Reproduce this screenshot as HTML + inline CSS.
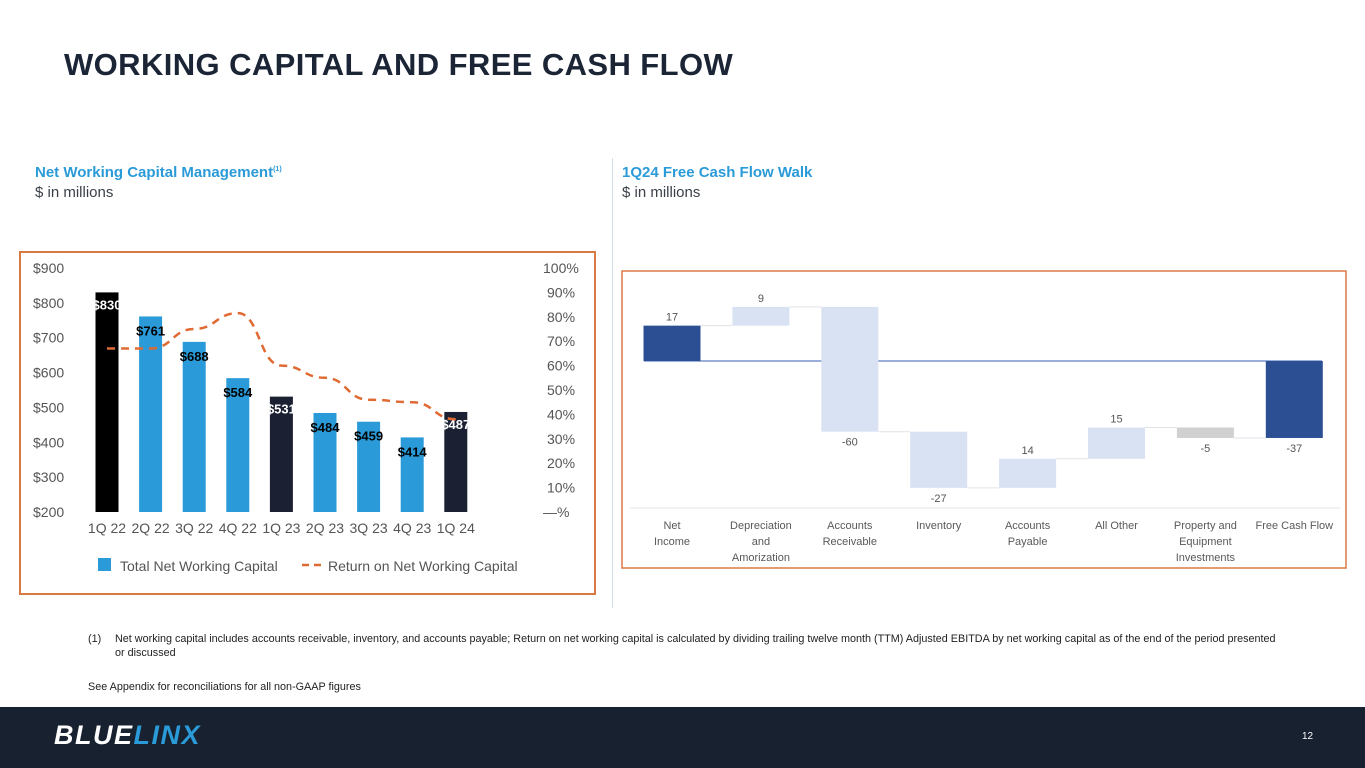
<!DOCTYPE html>
<html><head><meta charset="utf-8"><style>
body{margin:0;width:1365px;height:768px;position:relative;background:#fff;font-family:"Liberation Sans",sans-serif;overflow:hidden}
.abs{position:absolute}
</style></head><body>
<div class="abs" style="left:64px;top:47px;font-size:31px;font-weight:bold;color:#1b2536;letter-spacing:0.4px">WORKING CAPITAL AND FREE CASH FLOW</div>
<div class="abs" style="left:35px;top:164px;font-size:15px;font-weight:bold;color:#2a9bd8">Net Working Capital Management<sup style="font-size:7px">(1)</sup></div>
<div class="abs" style="left:35px;top:184px;font-size:15px;color:#3a3f48">$ in millions</div>
<div class="abs" style="left:622px;top:164px;font-size:15px;font-weight:bold;color:#2a9bd8">1Q24 Free Cash Flow Walk</div>
<div class="abs" style="left:622px;top:184px;font-size:15px;color:#3a3f48">$ in millions</div>
<div class="abs" style="left:612px;top:158px;width:1px;height:450px;background:#d5dde6"></div>

<svg class="abs" style="left:0;top:0" width="1365" height="700" id="svg"></svg>

<div class="abs" style="left:88px;top:632px;width:1200px;font-size:10.8px;color:#222;line-height:14px"><span style="position:absolute;left:0">(1)</span><div style="margin-left:27px">Net working capital includes accounts receivable, inventory, and accounts payable; Return on net working capital is calculated by dividing trailing twelve month (TTM) Adjusted EBITDA by net working capital as of the end of the period presented or discussed</div></div>
<div class="abs" style="left:88px;top:681px;font-size:10.8px;color:#222">See Appendix for reconciliations for all non-GAAP figures</div>
<div class="abs" style="left:0;top:707px;width:1365px;height:61px;background:#17212f">
<div style="position:absolute;left:54px;top:13px;font-size:27px;font-weight:900;font-style:italic;letter-spacing:1.5px;color:#fff">BLUE<span style="color:#2a9bd8">LINX</span></div>
<div style="position:absolute;left:1302px;top:24px;font-size:10px;color:#fff">12</div>
</div>

<script>
const cats=["1Q 22","2Q 22","3Q 22","4Q 22","1Q 23","2Q 23","3Q 23","4Q 23","1Q 24"];
const nwc=[830,761,688,584,531,484,459,414,487];
const ronwc=[67,67,75,81.5,60,55,46,45,38];
const yTicks=[200,300,400,500,600,700,800,900];
const pTicks=[0,10,20,30,40,50,60,70,80,90,100];
const wfCats=[["Net","Income"],["Depreciation","and","Amorization"],["Accounts","Receivable"],["Inventory"],["Accounts","Payable"],["All Other"],["Property and","Equipment","Investments"],["Free Cash Flow"]];
const wfVals=[17,9,-60,-27,14,15,-5,-37];

const NS="http://www.w3.org/2000/svg",svg=document.getElementById('svg');
function mk(t,a,txt){const e=document.createElementNS(NS,t);for(const k in a)e.setAttribute(k,a[k]);if(txt!==undefined)e.textContent=txt;svg.appendChild(e);return e;}
let b=mk('rect',{x:20,y:252,width:575,height:342,fill:'none',stroke:'#d97a45','stroke-width':2});

const y=v=>512-(v-200)*244/700, p=v=>512-v*2.44, x=i=>107+i*43.6;
yTicks.forEach(t=>{const e=mk('text',{x:33,y:y(t)+5,'font-size':14,fill:'#555'},'$'+t);});
pTicks.forEach(t=>{const e=mk('text',{x:t==0?543:(t==100?543:547),y:p(t)+5,'font-size':14,fill:'#555'},t==0?'—%':t+'%');});
cats.forEach((c,i)=>{
 const col=i==0?'#000':(i==4||i==8?'#1c2033':'#2a9bd8');
 const r=mk('rect',{x:x(i)-11.5,y:y(nwc[i]),width:23,height:512-y(nwc[i]),fill:col});
 
 const dark=i==0||i==4||i==8;
 const l=mk('text',{x:x(i),y:y(nwc[i])+(dark?17:19),'font-size':13,'font-weight':'bold','text-anchor':'middle',fill:dark?'#fff':'#000'},'$'+nwc[i]);
 
 const t=mk('text',{x:x(i),y:533,'font-size':14,'text-anchor':'middle',fill:'#555'},c);
 
});
let d='M'+x(0)+','+p(ronwc[0]);
for(let i=1;i<ronwc.length;i++){const x0=x(i-1),x1=x(i),y0=p(ronwc[i-1]),y1=p(ronwc[i]);const m=(x0+x1)/2;d+=` C${m},${y0} ${m},${y1} ${x1},${y1}`;}
let ln=mk('path',{d:d,fill:'none',stroke:'#e06a33','stroke-width':2.5,'stroke-dasharray':'8,6'});

let lg1=mk('rect',{x:98,y:558,width:13,height:13,fill:'#2a9bd8'});
let lt1=mk('text',{x:120,y:571,'font-size':14,fill:'#555'},'Total Net Working Capital');
let lg2=mk('line',{x1:302,y1:565,x2:324,y2:565,stroke:'#e06a33','stroke-width':2.5,'stroke-dasharray':'7,5'});
let lt2=mk('text',{x:328,y:571,'font-size':14,fill:'#555'},'Return on Net Working Capital');

let b2=mk('rect',{x:622,y:271,width:724,height:297,fill:'none',stroke:'#d97a45','stroke-width':1.5});

const base=361,sc=2.08,wx=i=>672+i*88.9,wy=v=>base-v*sc;
let ax=mk('line',{x1:630,y1:508,x2:1340,y2:508,stroke:'#e3e6ea','stroke-width':1});
let zl=mk('line',{x1:644,y1:wy(0),x2:1322,y2:wy(0),stroke:'#7896cf','stroke-width':1.5});
let cum=0;const n=wfVals.length;
wfVals.forEach((v,i)=>{
 let s,e,col;
 if(i==0||i==n-1){s=0;e=v;col='#2c4f93';} else {s=cum;e=cum+v;col=i==n-2?'#d0d0d0':'#d9e2f2';}
 if(i<n-1) cum=(i==0?v:cum+v);
 const top=Math.min(wy(s),wy(e)),h=Math.abs(wy(s)-wy(e));
 const r=mk('rect',{x:wx(i)-28.5,y:top,width:57,height:h,fill:col});
 
 if(i<n-1){const c=mk('line',{x1:wx(i)+28.5,y1:wy(i==0?v:e),x2:wx(i+1)-28.5,y2:wy(i==0?v:e),stroke:'#e0e3e8','stroke-width':1});}
 const ly=v>=0?top-5:top+h+14;
 const l=mk('text',{x:wx(i),y:ly,'font-size':11,'text-anchor':'middle',fill:'#555'},v);
 
 wfCats[i].forEach((w,k)=>{const t=mk('text',{x:wx(i),y:529+k*16,'font-size':11,'text-anchor':'middle',fill:'#595959'},w);});
});
</script>
</body></html>
